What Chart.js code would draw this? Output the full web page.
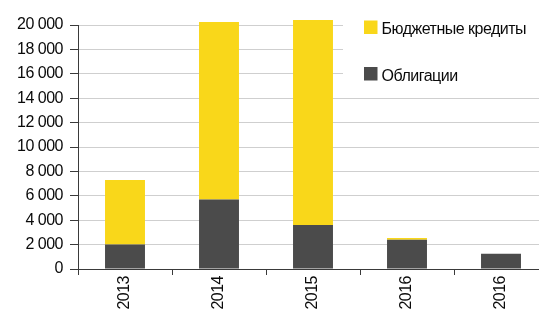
<!DOCTYPE html>
<html>
<head>
<meta charset="utf-8">
<script src="https://cdn.jsdelivr.net/npm/chart.js@4.4.0/dist/chart.umd.min.js"></script>
<style>
html,body{margin:0;padding:0;background:#fff;overflow:hidden;}
#wrap{position:relative;width:560px;height:309px;}
</style>
</head>
<body>
<div id="wrap"><canvas id="c" width="560" height="309"></canvas></div>
<script>
const categories = ['2013', '2014', '2015', '2016', '2016'];
const bonds = [2000, 5700, 3600, 2400, 1250];
const budgetCredits = [5300, 14550, 16800, 150, 0];
const yTickMin = 0;
const yTickMax = 20000;
const yTickStep = 2000;
const seriesNames = { credits: 'Бюджетные кредиты', bonds: 'Облигации' };
const colors = { credits: '#F9D71A', bonds: '#4B4B4B' };

const FONT = '"Liberation Sans", Arial, sans-serif';

const spacingPlugin = {
  id: 'spacing',
  beforeUpdate(chart) { chart.ctx.letterSpacing = '-0.5px'; },
  beforeDraw(chart) { chart.ctx.letterSpacing = '-0.5px'; }
};

const legendPlugin = {
  id: 'customLegend',
  beforeDatasetsDraw(chart) {
    const ctx = chart.ctx;
    ctx.save();
    ctx.fillStyle = '#fff';
    ctx.fillRect(343, 0, chart.width - 343, 88);
    ctx.restore();
  },
  afterDraw(chart) {
    const ctx = chart.ctx;
    ctx.save();
    ctx.letterSpacing = '-0.5px';
    const items = [
      { label: seriesNames.credits, color: colors.credits, y: 20.5, base: 34.3 },
      { label: seriesNames.bonds, color: colors.bonds, y: 67, base: 80.8 }
    ];
    ctx.font = '16px ' + FONT;
    ctx.textBaseline = 'alphabetic';
    ctx.textAlign = 'left';
    items.forEach(it => {
      ctx.fillStyle = it.color;
      ctx.fillRect(364, it.y, 13.5, 13.5);
      ctx.fillStyle = '#0a0a0a';
      ctx.fillText(it.label, 381.5, it.base);
    });
    ctx.restore();
  }
};

new Chart(document.getElementById('c'), {
  type: 'bar',
  data: {
    labels: categories,
    datasets: [
      { label: seriesNames.bonds, data: bonds, backgroundColor: colors.bonds, borderWidth: 0, clip: false,
        barPercentage: 0.425, categoryPercentage: 1 },
      { label: seriesNames.credits, data: budgetCredits, backgroundColor: colors.credits, borderWidth: 0, clip: false,
        barPercentage: 0.425, categoryPercentage: 1 }
    ]
  },
  options: {
    responsive: false,
    animation: false,
    layout: { padding: { left: 0, top: 25, right: 12, bottom: 0 } },
    plugins: { legend: { display: false }, tooltip: { enabled: false } },
    scales: {
      x: {
        stacked: true,
        grid: { drawOnChartArea: false, drawTicks: true, tickLength: 6, offset: true, color: '#3a3a3a', tickColor: '#3a3a3a' },
        border: { display: true, color: '#3a3a3a', width: 1 },
        ticks: { minRotation: 90, maxRotation: 90, padding: 1, color: '#0a0a0a', font: { family: FONT, size: 16 } },
        afterFit(scale) { scale.height = 40; }
      },
      y: {
        stacked: true,
        min: yTickMin,
        max: yTickMax,
        grid: { color: '#CFCFCF', tickColor: '#3a3a3a', tickLength: 8, drawTicks: true },
        border: { display: true, color: '#3a3a3a', width: 1 },
        ticks: {
          stepSize: yTickStep,
          padding: 7,
          color: '#0a0a0a',
          font: { family: FONT, size: 16 },
          callback: v => String(v).replace(/\B(?=(\d{3})+(?!\d))/g, ' ')
        },
        afterFit(scale) { scale.width = 78; }
      }
    }
  },
  plugins: [spacingPlugin, legendPlugin]
});
</script>
</body>
</html>
